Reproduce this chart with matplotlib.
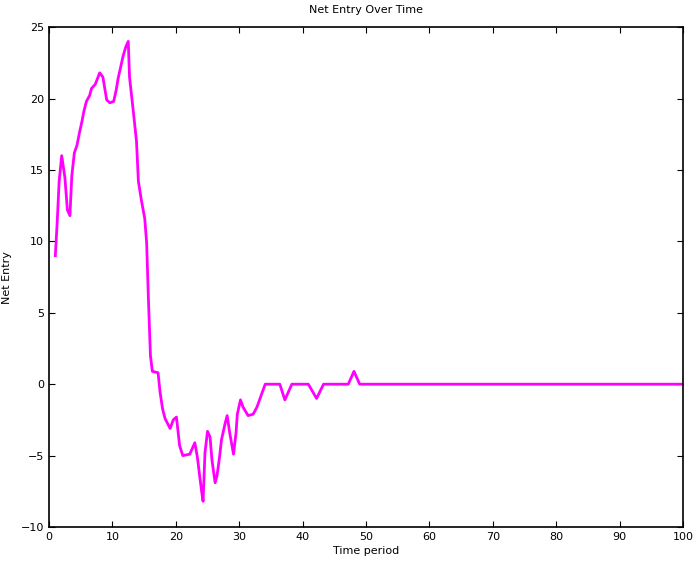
import matplotlib
matplotlib.use("Agg")
import matplotlib.pyplot as plt

# time period and net entry
time = [1, 1.3, 1.6, 2, 2.5, 2.9, 3.3, 3.6, 4, 4.4, 4.8, 5.2, 5.5, 5.9, 6.4, 6.7,
        7.3, 8, 8.5, 9.1, 9.6, 10.2, 10.6, 10.9, 11.3, 11.7, 12.1, 12.5, 12.7,
        13.3, 13.8, 14.1, 14.6, 15.1, 15.4, 15.7, 16, 16.3, 17.2, 17.5, 17.9,
        18.3, 19.1, 19.6, 20.1, 20.6, 21.1, 22.2, 23, 23.4, 23.7, 24.1, 24.3,
        24.6, 25, 25.4, 25.7, 26.2, 26.5, 26.9, 27.2, 27.8, 28.1, 28.5, 29.1,
        29.5, 29.7, 30.2, 30.6, 31.4, 32.2, 32.8, 34.1, 36.4, 37.2, 38.3, 40.9,
        42.2, 43.3, 47.2, 48.1, 49, 100]
net_entry = [9, 11.4, 14.2, 16, 14.5, 12.2, 11.8, 14.6, 16.2, 16.7, 17.6, 18.4,
             19.1, 19.8, 20.2, 20.7, 21, 21.8, 21.5, 19.9, 19.7, 19.8, 20.6,
             21.4, 22.2, 23, 23.6, 24, 21.5, 19.1, 17, 14.2, 12.8, 11.6, 9.9,
             5.7, 2, 0.9, 0.8, -0.5, -1.7, -2.4, -3.1, -2.5, -2.3, -4.3, -5,
             -4.9, -4.1, -5.1, -6.2, -7.6, -8.2, -4.8, -3.3, -3.7, -5.3, -6.9,
             -6.4, -5.1, -3.9, -2.7, -2.2, -3.4, -4.9, -3.4, -2.1, -1.1, -1.6,
             -2.2, -2.1, -1.6, 0, 0, -1.1, 0, 0, -1, 0, 0, 0.9, 0, 0]

xticks = list(range(0, 101, 10))
yticks = list(range(-10, 26, 5))

fig = plt.figure(figsize=(6.96, 5.67), dpi=100)
ax = fig.add_axes([0.0704, 0.0705, 0.911, 0.8817])

ax.plot(time, net_entry, color='#ff00ff', linewidth=2)

ax.set_xlim(0, 100)
ax.set_ylim(-10, 25)
ax.set_xticks(xticks)
ax.set_yticks(yticks)
ax.tick_params(direction='in', top=True, right=True, labelsize=8, length=4)
for s in ax.spines.values():
    s.set_linewidth(1.2)

ax.set_title('Net Entry Over Time', fontsize=8, pad=10)
ax.set_xlabel('Time period', fontsize=8, labelpad=3)
ax.set_ylabel('Net Entry', fontsize=8, labelpad=6)

fig.savefig('out.png', dpi=100)
